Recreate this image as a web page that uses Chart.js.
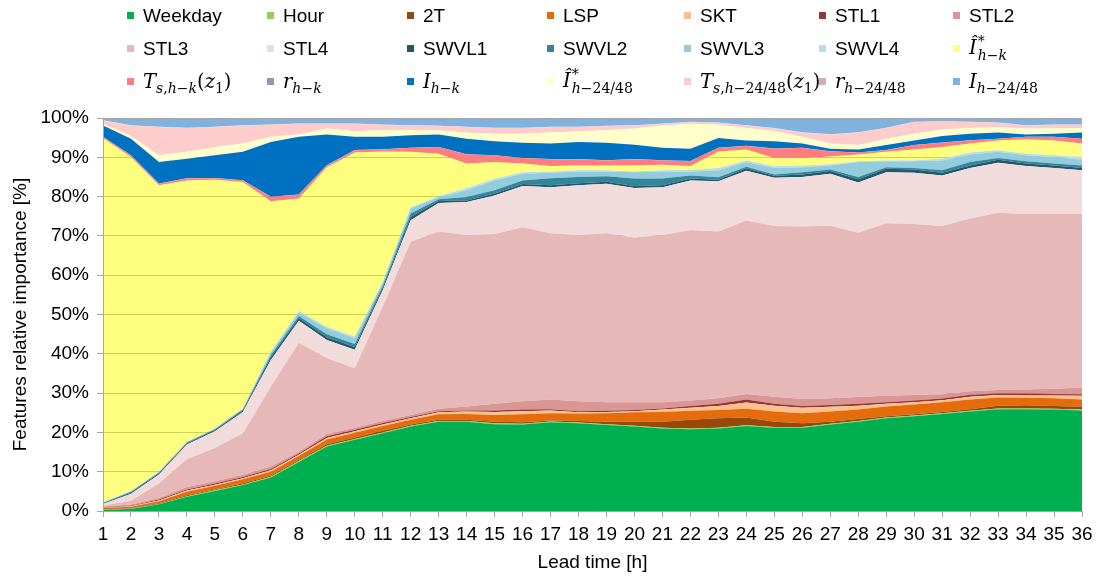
<!doctype html>
<html lang="en">
<head>
<meta charset="utf-8">
<title>Features relative importance by lead time</title>
<style>
  body { margin: 0; background: #fff; }
  #wrap { position: relative; width: 1099px; height: 579px; }
  #chart { position: absolute; left: 0; top: 0; }
  #legend {
    position: absolute; left: 127px; top: -1px;
    display: grid;
    grid-template-columns: 140px 140px 140px 137px 135px 134px 140px;
    grid-auto-rows: 33px;
    font-family: 'Liberation Sans', Arial, sans-serif; font-size: 19px; color: #000;
  }
  .item { display: flex; align-items: center; white-space: nowrap; height: 33px; }
  .box { width: 7px; height: 7px; margin-right: 9px; flex: none; }
  .m { font-family: 'DejaVu Serif', serif; font-style: italic; font-size: 19.5px; }
  .m .n { font-style: normal; }
  .m sub { font-size: 0.72em; vertical-align: -0.35em; line-height: 0; }
  .m .ss { display: inline-flex; flex-direction: column; font-size: 0.72em; line-height: 0.95;
           vertical-align: 0.55em; margin-left: 1px; }
</style>
</head>
<body>
<div id="wrap">
  <canvas id="chart" width="1099" height="579"></canvas>
  <div id="legend"></div>
</div>
<script src="https://cdn.jsdelivr.net/npm/chart.js"></script>
<script>
// lead times 1..36 h
const leadTimes = ['1','2','3','4','5','6','7','8','9','10','11','12','13','14','15','16','17','18',
  '19','20','21','22','23','24','25','26','27','28','29','30','31','32','33','34','35','36'];

// relative importance per feature [%], one value per lead time
const weekday = [0.3,0.5,1.7,3.6,5.1,6.6,8.5,12.5,16.4,18.1,19.8,21.5, 22.7,22.7,22.1,22.0,22.6,22.3,21.9,21.5,21.0,20.8,21.0,21.6, 21.2,21.2,22.0,22.7,23.6,24.1,24.7,25.3,25.9,25.9,25.8,25.6];
const hour = [0.05,0.1,0.1,0.15,0.15,0.15,0.2,0.2,0.2,0.2,0.2,0.2, 0.2,0.2,0.2,0.2,0.2,0.2,0.2,0.2,0.2,0.2,0.2,0.2, 0.2,0.2,0.2,0.2,0.2,0.2,0.2,0.2,0.2,0.2,0.2,0.2];
const t2m = [0.1,0.1,0.2,0.25,0.25,0.3,0.3,0.3,0.4,0.4,0.4,0.3, 0.3,0.3,0.4,0.4,0.2,0.4,0.6,1.0,1.5,2.2,2.4,2.0, 1.3,0.9,0.5,0.5,0.3,0.3,0.3,0.4,0.7,0.8,0.7,0.7];
const lsp = [0.3,0.4,0.5,0.9,0.9,1.0,1.0,1.0,1.2,1.2,1.2,1.2, 1.4,1.5,1.7,2.0,1.9,1.9,2.2,2.4,2.5,2.3,2.1,2.2, 2.6,2.55,2.6,2.4,2.5,2.5,2.5,2.5,2.1,1.9,2.0,1.9];
const skt = [0.1,0.1,0.2,0.3,0.3,0.3,0.4,0.3,0.4,0.4,0.4,0.4, 0.5,0.6,0.8,0.8,0.7,0.3,0.3,0.3,0.6,0.8,1.0,1.6, 1.5,1.45,1.2,1.0,0.7,0.6,0.5,0.7,0.6,0.6,0.7,0.9];
const stl1 = [0.1,0.15,0.2,0.3,0.3,0.3,0.3,0.3,0.4,0.4,0.4,0.3, 0.3,0.3,0.4,0.4,0.3,0.3,0.3,0.3,0.3,0.4,0.6,0.8, 0.5,0.4,0.5,0.5,0.4,0.4,0.4,0.5,0.4,0.5,0.4,0.4];
const stl2 = [0.2,0.3,0.4,0.6,0.6,0.6,0.6,0.5,0.5,0.5,0.5,0.5, 0.6,1.0,1.7,2.1,2.5,2.5,2.2,2.0,1.6,1.4,1.4,1.4, 1.8,1.8,1.7,1.7,1.6,1.4,1.1,0.9,0.9,1.0,1.3,1.7];
const stl3 = [0.25,0.95,3.7,7.1,8.4,10.55,20.3,27.7,19.4,15.1,29.1,44.1, 45.1,43.6,43.2,44.3,42.3,42.3,43.0,41.9,42.5,43.4,42.4,44.1, 43.4,43.9,43.9,41.8,43.9,43.5,42.8,43.9,45.1,44.7,44.5,44.2];
const stl4 = [0.4,1.8,2.3,3.7,4.3,5.4,6.8,5.6,4.6,4.7,4.2,5.5, 7.3,8.4,9.8,10.5,11.7,12.7,12.6,12.6,12.2,12.6,12.8,12.7, 12.3,12.6,13.2,12.8,13.0,13.1,12.9,12.9,12.7,12.2,11.7,11.1];
const swvl1 = [0.15,0.3,0.3,0.3,0.3,0.4,0.7,0.7,0.7,0.7,0.6,0.8, 0.5,0.4,0.5,0.5,0.5,0.5,0.5,0.5,0.5,0.5,0.4,0.6, 0.5,0.6,0.7,0.8,0.9,0.8,0.7,0.6,0.8,0.6,0.6,0.6];
const swvl2 = [0.1,0.2,0.2,0.2,0.2,0.25,0.5,0.5,0.8,0.8,0.5,0.9, 0.4,0.9,0.8,0.9,1.8,1.6,1.4,1.9,1.7,0.8,0.6,0.4, 0.3,0.6,0.4,0.6,0.4,0.4,0.6,0.9,0.4,0.6,0.5,0.6];
const swvl3 = [0.1,0.15,0.15,0.15,0.15,0.2,0.7,1.0,1.5,1.5,0.8,1.3, 0.6,1.7,2.5,1.7,1.4,1.4,1.2,1.6,1.8,1.0,1.8,1.2, 1.7,1.3,1.0,3.8,1.5,1.7,2.5,1.9,1.6,1.5,1.7,1.5];
const swvl4 = [0.05,0.05,0.05,0.05,0.05,0.05,0.2,0.3,0.4,0.4,0.2,0.3, 0.2,0.6,0.45,0.4,0.3,0.3,0.3,0.2,0.3,0.4,0.6,0.4, 0.4,0.4,0.3,0.2,0.2,0.2,0.5,0.5,0.4,0.4,0.4,0.7];
const iHatK = [92.7,85.0,72.9,66.5,63.3,57.6,38.3,28.6,40.6,46.8,33.2,14.1, 10.8,6.2,4.25,2.2,1.4,1.2,1.2,1.5,1.4,1.0,4.2,2.8, 2.1,1.9,2.0,1.7,2.2,2.8,2.9,2.3,2.5,3.7,3.8,3.4];
const tsK = [0.3,0.4,0.4,0.5,0.4,0.4,1.1,1.0,0.4,0.6,0.5,1.0, 1.7,2.3,1.7,1.4,1.7,1.6,1.3,1.6,1.1,1.2,0.9,0.9, 2.4,2.6,1.3,0.5,0.4,1.1,1.1,0.8,0.4,0.6,0.9,1.2];
const rK = [0.05,0.05,0.05,0.05,0.05,0.05,0.05,0.05,0.05,0.05,0.05,0.05, 0.05,0.05,0.05,0.05,0.05,0.05,0.05,0.05,0.05,0.05,0.05,0.05, 0.05,0.05,0.05,0.05,0.05,0.05,0.05,0.05,0.05,0.05,0.05,0.05];
const iK = [2.85,4.15,5.45,4.95,5.75,7.25,13.95,14.65,7.85,3.35,3.15,3.15, 3.15,3.95,3.55,3.85,3.95,4.35,4.45,3.65,3.15,3.15,2.45,1.35, 1.85,1.05,0.65,0.75,1.25,1.15,1.65,1.65,1.55,0.55,0.75,1.55];
const iHat24 = [0.4,0.7,1.7,1.8,2.1,2.1,1.3,0.6,1.5,1.4,1.7,1.3, 1.1,1.6,1.9,2.3,2.8,2.7,3.2,4.1,5.7,6.35,3.4,3.15, 2.6,1.7,1.3,1.1,1.6,1.7,1.7,1.45,1.4,1.5,1.3,1.15];
const ts24 = [0.9,2.7,7.2,6.05,5.1,4.6,3.1,2.75,1.25,1.95,1.4,1.2, 1.1,1.4,1.45,1.45,1.4,1.1,1.06,0.8,0.45,0.45,0.5,0.65, 0.7,1.1,2.3,3.2,2.75,3.0,2.0,1.55,1.1,0.8,1.0,0.85];
const r24 = [0.05,0.05,0.05,0.05,0.05,0.05,0.05,0.05,0.05,0.05,0.05,0.05, 0.05,0.05,0.05,0.05,0.05,0.05,0.05,0.05,0.05,0.05,0.05,0.05, 0.05,0.05,0.05,0.05,0.05,0.05,0.05,0.05,0.05,0.05,0.05,0.05];
const i24 = [0.55,1.85,2.25,2.5,2.25,1.85,1.65,1.4,1.4,1.4,1.65,1.85, 1.95,2.25,2.5,2.5,2.25,2.25,2.0,1.85,1.4,0.95,1.15,1.85, 2.55,3.65,4.15,3.65,2.5,0.95,0.85,0.95,1.15,1.85,1.65,1.65];

// legend labels (markup, math symbols set in italic serif)
const seriesLabels = [
  'Weekday', 'Hour', '2T', 'LSP', 'SKT', 'STL1', 'STL2',
  'STL3', 'STL4', 'SWVL1', 'SWVL2', 'SWVL3', 'SWVL4',
  '<span class="m">Î<span class="ss"><span class="n">*</span><span>h<span class="n">−</span>k</span></span></span>',
  '<span class="m">T<sub>s<span class="n">,</span>h<span class="n">−</span>k</sub><span class="n">(</span>z<sub class="n">1</sub><span class="n">)</span></span>',
  '<span class="m">r<sub>h<span class="n">−</span>k</sub></span>',
  '<span class="m">I<sub>h<span class="n">−</span>k</sub></span>',
  '<span class="m">Î<span class="ss"><span class="n">*</span><span>h<span class="n">−24/48</span></span></span></span>',
  '<span class="m">T<sub>s<span class="n">,</span>h<span class="n">−24/48</span></sub><span class="n">(</span>z<sub class="n">1</sub><span class="n">)</span></span>',
  '<span class="m">r<sub>h<span class="n">−24/48</span></sub></span>',
  '<span class="m">I<sub>h<span class="n">−24/48</span></sub></span>'
];
const seriesData = [weekday, hour, t2m, lsp, skt, stl1, stl2, stl3, stl4, swvl1, swvl2, swvl3, swvl4,
  iHatK, tsK, rK, iK, iHat24, ts24, r24, i24];
const seriesColors = ['#00B050', '#92D050', '#984807', '#E46C0A', '#FAC090', '#953735', '#D99694',
  '#E6B9B8', '#F2DCDB', '#215968', '#31859C', '#93CDDD', '#B7DEE8',
  'rgba(255,255,0,0.5)', '#FF7C80', '#9E8FC0', '#0070C0', '#FFFFCC', '#FFCCCC', '#D8ACAB', '#7FB2DF'];

const axisFont = { family: "'Liberation Sans', Arial, sans-serif", size: 19 };
const lineGray = '#A6A6A6';

const datasets = seriesData.map((d, i) => ({
  label: seriesLabels[i].replace(/<[^>]+>/g, ''),
  data: d,
  backgroundColor: seriesColors[i],
  borderColor: seriesColors[i],
  borderWidth: 0,
  pointRadius: 0,
  tension: 0,
  fill: i === 0 ? 'origin' : '-1'
}));

// axis frame drawn over the areas: top, left and bottom edge
const frame = {
  id: 'frame',
  afterDatasetsDraw(chart) {
    const { ctx, chartArea: a } = chart;
    ctx.save();
    ctx.strokeStyle = lineGray;
    ctx.lineWidth = 1;
    ctx.beginPath();
    ctx.moveTo(a.left, Math.round(a.top) + 0.5);
    ctx.lineTo(a.right, Math.round(a.top) + 0.5);
    ctx.moveTo(Math.round(a.left) + 0.5, a.top);
    ctx.lineTo(Math.round(a.left) + 0.5, a.bottom);
    ctx.moveTo(a.left, Math.round(a.bottom) + 0.5);
    ctx.lineTo(a.right, Math.round(a.bottom) + 0.5);
    ctx.stroke();
    ctx.restore();
  }
};

const chart = new Chart(document.getElementById('chart'), {
  type: 'line',
  data: { labels: leadTimes, datasets: datasets },
  plugins: [frame],
  options: {
    responsive: false,
    animation: false,
    devicePixelRatio: 1,
    layout: { padding: { top: 118, right: 17, bottom: 0, left: 0 } },
    plugins: { legend: { display: false }, tooltip: { enabled: false } },
    scales: {
      x: {
        offset: false,
        grid: { drawOnChartArea: false, drawTicks: true, tickLength: 6, color: lineGray },
        border: { display: false },
        ticks: { font: axisFont, color: '#000', padding: 6, maxRotation: 0, autoSkip: false },
        title: { display: true, text: 'Lead time [h]', font: axisFont, color: '#000', padding: { top: 0, bottom: 5 } },
        afterFit(s) { s.height = 68; }
      },
      y: {
        stacked: true,
        min: 0,
        max: 100,
        grid: { color: lineGray, tickLength: 6 },
        border: { display: false },
        ticks: { stepSize: 10, font: axisFont, color: '#000', padding: 8, callback: v => v + '%' },
        title: { display: true, text: 'Features relative importance [%]', font: axisFont, color: '#000', padding: { top: 9, bottom: 0 } },
        afterFit(s) { s.width = 103; }
      }
    }
  }
});

// html legend, seven entries per row
const legend = document.getElementById('legend');
chart.data.datasets.forEach((ds, i) => {
  const item = document.createElement('div');
  item.className = 'item';
  item.innerHTML = '<span class="box" style="background:' + ds.backgroundColor + '"></span>' + seriesLabels[i];
  legend.appendChild(item);
});
</script>
</body>
</html>
